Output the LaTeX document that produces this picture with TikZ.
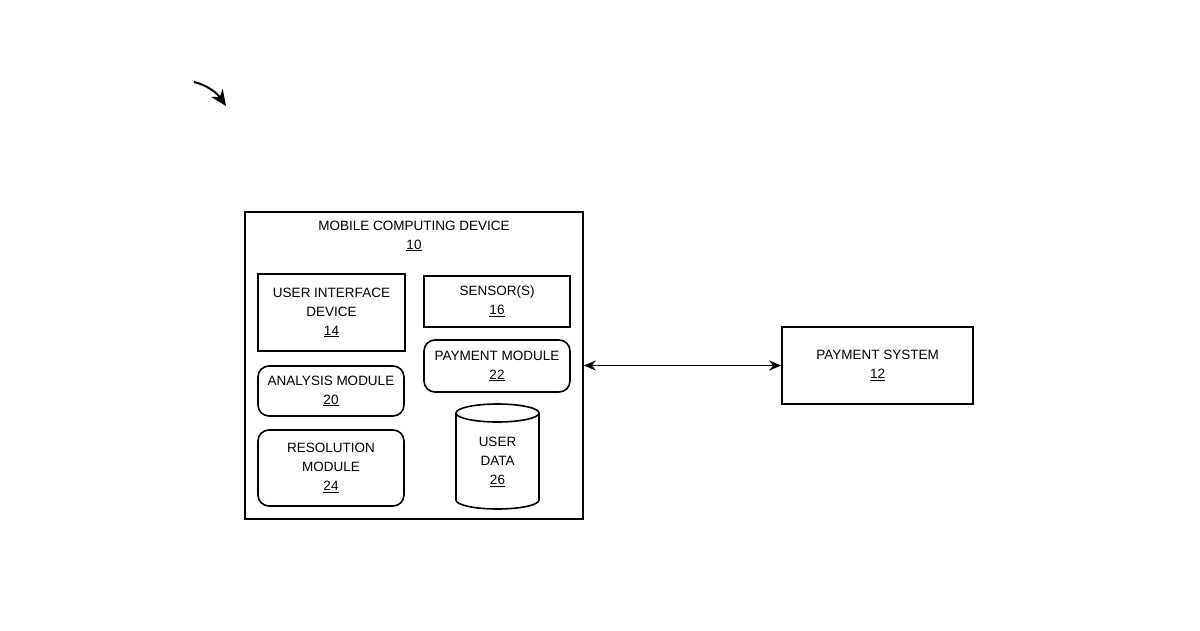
\documentclass[tikz,border=0pt]{standalone}
\usepackage{fontspec}
\setmainfont{Liberation Sans}
\usetikzlibrary{shapes.geometric,arrows.meta}
\begin{document}
\begin{tikzpicture}[x=1pt,y=-1pt,
  box/.style={draw,line width=1.6pt,align=center,font=\fontsize{13.5}{19}\selectfont,inner sep=0pt},
  rbox/.style={box,rounded corners=11pt}]
\useasboundingbox (0,0) rectangle (1200,630);
\node[box,minimum width=338pt,minimum height=307pt] (mcd) at (414,365.5) {};
\node[font=\fontsize{13.5}{19}\selectfont,align=center] (mcdl) at (414,236) {MOBILE COMPUTING DEVICE\\\underline{10}};
\node[box,minimum width=147pt,minimum height=77pt] (ui) at (331.5,312.5) {USER INTERFACE\\DEVICE\\\underline{14}};
\node[box,minimum width=146pt,minimum height=51pt] (sen) at (497,301.5) {SENSOR(S)\\\underline{16}};
\node[rbox,minimum width=146pt,minimum height=52pt] (pm) at (497,366) {PAYMENT MODULE\\\underline{22}};
\node[rbox,minimum width=146pt,minimum height=50pt] (am) at (331,391) {ANALYSIS MODULE\\\underline{20}};
\node[rbox,minimum width=146pt,minimum height=76pt] (rm) at (331,468) {RESOLUTION\\MODULE\\\underline{24}};
\draw[line width=1.6pt] (456,413) arc[start angle=180,end angle=360,x radius=41.5pt,y radius=-9pt]
  -- (539,500) arc[start angle=0,end angle=180,x radius=41.5pt,y radius=-9pt] -- cycle;
\draw[line width=1.6pt] (456,413) arc[start angle=180,end angle=0,x radius=41.5pt,y radius=-9pt];
\node[font=\fontsize{13.5}{19}\selectfont,align=center] (ud) at (497.5,462) {USER\\DATA\\\underline{26}};
\node[box,minimum width=191pt,minimum height=77pt] (ps) at (877.5,365.5) {PAYMENT SYSTEM\\\underline{12}};
\draw[line width=1.6pt,{Stealth[length=12pt,width=10pt]}-{Stealth[length=12pt,width=10pt]}] (mcd.east |- ps.west) -- (ps.west);
\coordinate (a1) at (194,82);
\coordinate (a2) at (226,106);
\draw[line width=2pt,-{Stealth[length=16pt,width=14pt]}] (a1) .. controls (207,85) and (217,93) .. (a2);
\end{tikzpicture}
\end{document}
